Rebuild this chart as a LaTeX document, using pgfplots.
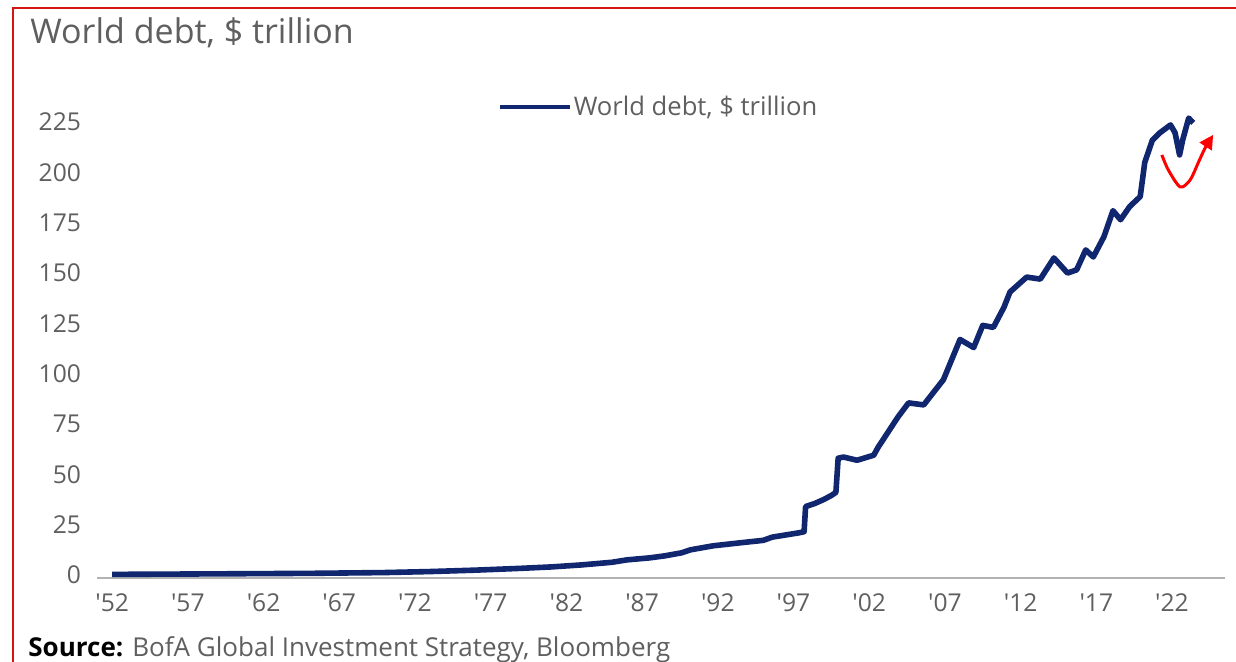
\documentclass[border=0pt]{standalone}
\usepackage{pgfplots}
\pgfplotsset{compat=1.18}
\usepackage{fontspec}
\setmainfont{Open Sans}
\usetikzlibrary{arrows.meta}
\definecolor{navy}{RGB}{16,38,110}
\definecolor{txtgray}{RGB}{95,95,95}
\definecolor{borderred}{RGB}{215,20,20}
\begin{document}
\begin{tikzpicture}
\path[use as bounding box, fill=white] (0pt,0pt) rectangle (618pt,331pt);
\draw[borderred, line width=1pt] (6.5pt,0pt) -- (6.5pt,327pt) -- (618pt,327pt);
\node[anchor=base west, inner sep=0pt, text=txtgray, font=\fontsize{17}{20}\selectfont] at (15pt,309pt) {World debt, \$ trillion};
\node[anchor=base west, inner sep=0pt, text=txtgray, font=\fontsize{13}{15}\selectfont] at (14pt,2.5pt) {\textcolor{black}{\textbf{Source:}} BofA Global Investment Strategy, Bloomberg};
\begin{axis}[
  at={(48.5pt,42pt)}, anchor=south west,
  width=564pt, height=238pt, scale only axis,
  xmin=1951, xmax=2025.5, ymin=-1.5, ymax=235,
  axis x line*=bottom, axis y line*=left,
  x axis line style={gray!60, line width=1.2pt, -},
  y axis line style={draw=none},
  major tick length=0pt,
  xtick={1952,1957,...,2022},
  xticklabels={{\textquotesingle 52},{\textquotesingle 57},{\textquotesingle 62},{\textquotesingle 67},{\textquotesingle 72},{\textquotesingle 77},{\textquotesingle 82},{\textquotesingle 87},{\textquotesingle 92},{\textquotesingle 97},{\textquotesingle 02},{\textquotesingle 07},{\textquotesingle 12},{\textquotesingle 17},{\textquotesingle 22}},
  ytick={0,25,...,225},
  yticklabel style={text=txtgray, font=\fontsize{12.3}{14}\selectfont, xshift=-4.5pt},
  xticklabel style={text=txtgray, font=\fontsize{12.3}{14}\selectfont, yshift=-4.5pt},
  /pgf/number format/assume math mode=true,
  yticklabel={\pgfmathprintnumber[assume math mode=true]{\tick}},
  legend style={at={(0.3546,0.9895)}, anchor=west, draw=none, fill=none, inner sep=0pt,
    font=\fontsize{12.8}{15}\selectfont, text=txtgray,
    nodes={inner sep=1pt},
    /tikz/every even column/.append style={column sep=0pt}},
  legend image code/.code={\draw[#1, line width=2.2pt] (0pt,0pt) -- (35pt,0pt);},
  clip=false,
]
\addplot[navy, line width=2.8pt, line join=round] coordinates {
(1952.0,0.3) (1955,0.4) (1960,0.6) (1965,0.8) (1970,1.2) (1973,1.7) (1976,2.4)
(1979,3.3) (1981,4.0) (1983,5.0) (1985,6.3) (1986,7.5) (1987.5,8.5) (1988.5,9.5)
(1989.6,11) (1990.2,12.5) (1991.7,14.5) (1993.5,16) (1995.0,17.2) (1995.6,18.8)
(1997.4,21) (1997.7,21.5) (1997.8,34) (1998.4,35.5) (1999.0,37.5) (1999.5,39.5)
(1999.8,41) (1999.95,58) (2000.3,58.6) (2001.2,57) (2001.9,58.6) (2002.3,59.5)
(2002.6,63.6) (2002.9,67) (2003.9,78.5) (2004.6,85.5) (2005.6,84.5) (2006.9,97)
(2008.0,117) (2008.9,113) (2009.5,124) (2010.2,123) (2010.9,133) (2011.3,140.6)
(2012.4,148) (2013.3,147) (2014.2,157.5) (2015.1,150) (2015.7,151.6) (2016.3,161.5)
(2016.8,158) (2017.5,168) (2018.1,181) (2018.6,176.5) (2019.2,183) (2019.9,188)
(2020.2,205) (2020.7,216) (2021.2,219.7) (2021.9,223.6) (2022.2,219.7) (2022.5,208.7)
(2022.7,216) (2023.1,227) (2023.4,224.6)
};
\addlegendentry{World debt, \$ trillion}
\addplot[red, line width=1.5pt, smooth, forget plot, -{Triangle[length=7pt,width=7pt]}] coordinates {
(2021.33,208.7) (2021.75,201.3) (2022.54,192.8) (2023.2,196.3) (2023.73,204.8) (2024.19,212.2) (2024.72,218.7)
};
\end{axis}
\end{tikzpicture}
\end{document}
